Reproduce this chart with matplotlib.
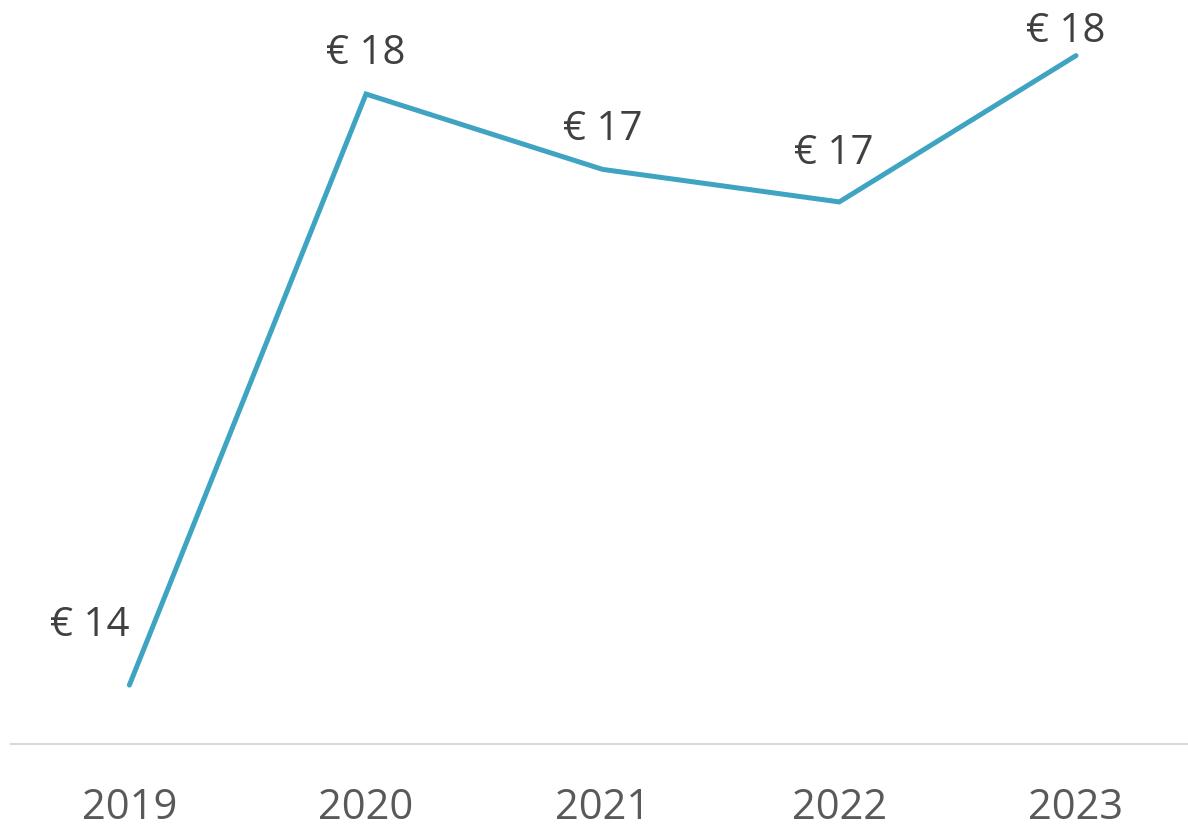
import matplotlib

matplotlib.use("Agg")
import matplotlib.pyplot as plt

years = ["2019", "2020", "2021", "2022", "2023"]
price = [13.9, 17.9, 17.39, 17.17, 18.16]
labels = ["€ 14", "€ 18", "€ 17", "€ 17", "€ 18"]

LINE_COLOR = "#3FA4C2"
LABEL_COLOR = "#404040"
TICK_COLOR = "#595959"

plt.rcParams["font.family"] = ["Open Sans", "DejaVu Sans"]

fig = plt.figure(figsize=(11.88, 8.28), dpi=100)
ax = fig.add_axes([0.0093, 0.1, 0.996, 0.893])

x = range(len(years))
ax.plot(x, price, color=LINE_COLOR, lw=3.6, solid_capstyle="round",
        solid_joinstyle="miter")

# data labels: above each point, first one nudged to the left
offsets = [(-40, 60), (0, 41), (0, 41), (-6, 49), (-10, 25)]
for xi, v, lab, (dx, dy) in zip(x, price, labels, offsets):
    ax.annotate(lab, (xi, v), xytext=(dx, dy), textcoords="offset pixels",
                ha="center", va="center", fontsize=29, color=LABEL_COLOR)

ax.set_xlim(-0.5, 4.5)
ax.set_ylim(13.5, 18.504)
ax.set_xticks(list(x))
ax.set_xticklabels(years, fontsize=30, color=TICK_COLOR)
ax.tick_params(axis="x", length=0, pad=30)
ax.set_yticks([])
for side in ("top", "right", "left"):
    ax.spines[side].set_visible(False)
ax.spines["bottom"].set_color("#D9D9D9")
ax.spines["bottom"].set_linewidth(1.5)

fig.savefig("out.png", dpi=100)
